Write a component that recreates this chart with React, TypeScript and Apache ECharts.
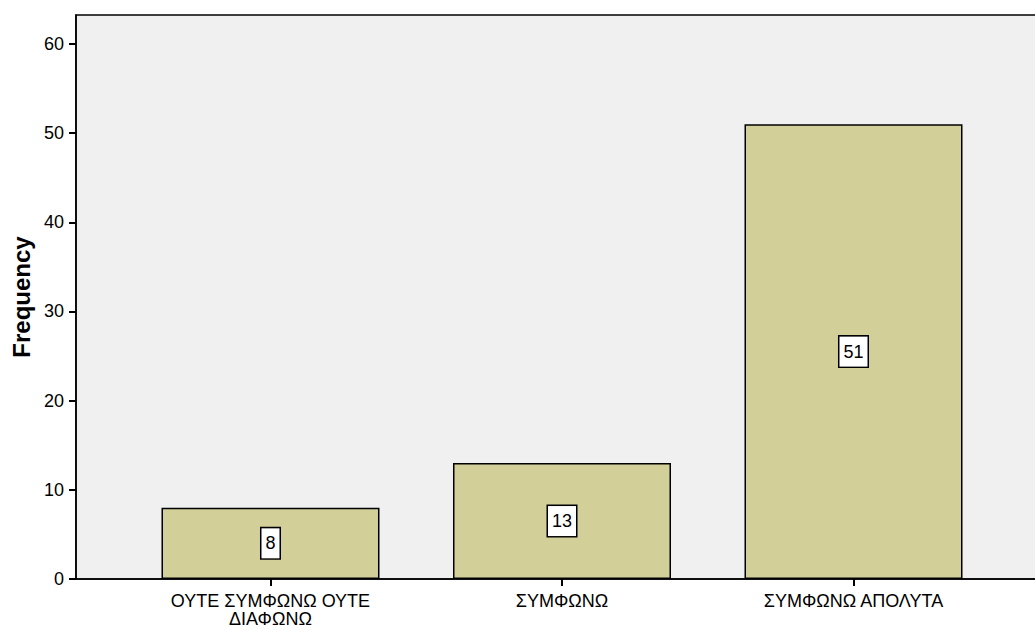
import React, { useEffect, useRef } from "react";
import * as echarts from "echarts";

// Response categories and their counts
const categories: string[] = ["ΟΥΤΕ ΣΥΜΦΩΝΩ ΟΥΤΕ\nΔΙΑΦΩΝΩ", "ΣΥΜΦΩΝΩ", "ΣΥΜΦΩΝΩ ΑΠΟΛΥΤΑ"];
const frequencies: number[] = [8, 13, 51];
const yTicks: number[] = [0, 10, 20, 30, 40, 50, 60];

const FONT = "'Liberation Sans', Arial, sans-serif";

export default function App() {
  const ref = useRef<HTMLDivElement>(null);

  useEffect(() => {
    if (!ref.current) return;
    const chart = echarts.init(ref.current, undefined, { renderer: "svg" });
    const positions = categories.map((_, i) => i);

    chart.setOption({
      animation: false,
      textStyle: { fontFamily: FONT },
      grid: {
        left: 76,
        right: 5,
        top: 15,
        bottom: 51,
        show: true,
        backgroundColor: "#f0f0f0",
        borderColor: "#000",
        borderWidth: 1.5,
      },
      xAxis: {
        type: "value",
        min: -0.6672,
        max: 2.6398,
        splitLine: { show: false },
        axisLine: { show: true, onZero: false, lineStyle: { color: "#000", width: 1.5 } },
        axisTick: {
          show: true,
          customValues: positions,
          length: 7,
          lineStyle: { color: "#000", width: 2 },
        },
        axisLabel: {
          customValues: positions,
          formatter: (v: number) => categories[Math.round(v)] ?? "",
          color: "#000",
          fontSize: 18,
          fontFamily: FONT,
          lineHeight: 18,
          margin: 13,
          align: "center",
        },
      },
      yAxis: {
        type: "value",
        min: 0,
        max: 63.25,
        interval: 10,
        name: "Frequency",
        nameLocation: "middle",
        nameGap: 42,
        nameRotate: 90,
        nameTextStyle: { color: "#000", fontSize: 24, fontWeight: "bold", fontFamily: FONT },
        splitLine: { show: false },
        axisLine: { show: true, onZero: false, lineStyle: { color: "#000", width: 1.5 } },
        axisTick: {
          show: true,
          customValues: yTicks,
          length: 7,
          lineStyle: { color: "#000", width: 2 },
        },
        axisLabel: {
          customValues: yTicks,
          color: "#000",
          fontSize: 18,
          fontFamily: FONT,
          margin: 12,
        },
      },
      series: [
        {
          type: "bar",
          data: frequencies.map((v, i) => [i, v]),
          barWidth: 218,
          itemStyle: { color: "#d3cf99", borderColor: "#000", borderWidth: 1.5 },
          label: {
            show: true,
            position: "inside",
            formatter: (p: any) => String(p.value[1]),
            color: "#000",
            fontSize: 18,
            fontFamily: FONT,
            lineHeight: 18,
            backgroundColor: "#fff",
            borderColor: "#000",
            borderWidth: 1.5,
            padding: [6, 4],
          },
        },
      ],
    });

    return () => chart.dispose();
  }, []);

  return (
    <div
      ref={ref}
      style={{ position: "fixed", left: 0, top: 0, width: 1045, height: 630, background: "#fff" }}
    />
  );
}
